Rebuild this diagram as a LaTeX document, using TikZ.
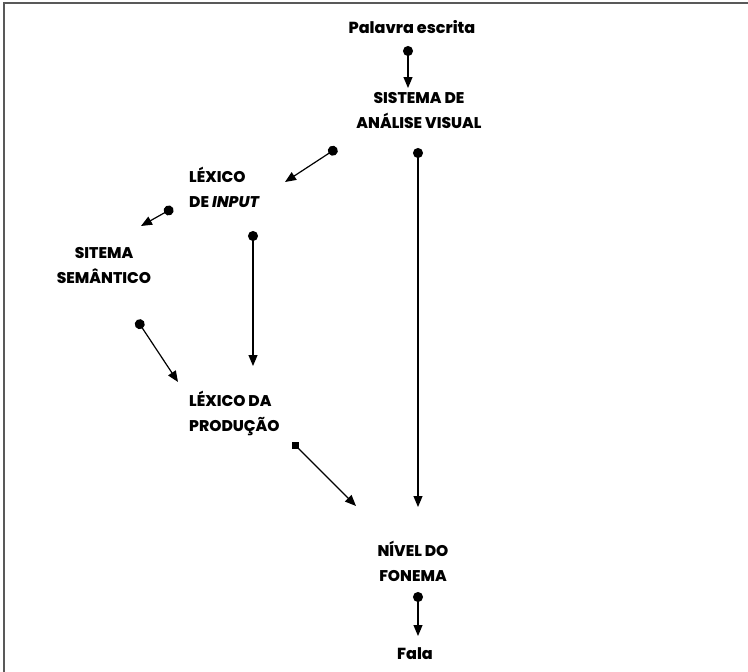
\documentclass[tikz,border=0pt]{standalone}
\usepackage{fontspec}
\setmainfont{Poppins}[BoldFont={* ExtraBold},BoldItalicFont={* ExtraBold Italic}]
\usetikzlibrary{arrows.meta}

\begin{document}
\begin{tikzpicture}[x=1pt,y=-1pt,
    every node/.style={font=\fontsize{15.5}{25}\selectfont\bfseries,inner sep=0pt},
    dotarrow/.style={line width=1.2pt,{Circle[length=10pt]}-{Triangle[length=11pt,width=9pt]}},
    sqarrow/.style={line width=1.2pt,-{Triangle[length=11pt,width=9pt]}}]
  \useasboundingbox (0,0) rectangle (748,672);
  \draw[line width=2pt,color=black!65] (4,672) -- (4,3) -- (748,3);

  \node (pal) at (412,27) {\fontsize{16}{24}\selectfont Palavra escrita};
  \node (vis) [align=center] at (419,111) {SISTEMA DE\\ANÁLISE VISUAL};
  \node (inp) [align=left,anchor=west] at (189,187) {LÉXICO\\DE \textit{INPUT}};
  \node (sem) [align=center] at (104,266) {SITEMA\\SEMÂNTICO};
  \node (prod) [align=left,anchor=west] at (189,413) {LÉXICO DA\\PRODUÇÃO};
  \node (fon) [align=center] at (413,561) {NÍVEL DO\\FONEMA};
  \node (fala) at (415,654) {\fontsize{16}{24}\selectfont Fala};

  \coordinate (pal-o) at (408,46);   \coordinate (vis-i) at (408,88);
  \coordinate (vis-o1) at (337,148); \coordinate (inp-i) at (285,182);
  \coordinate (vis-o2) at (418,148); \coordinate (fon-i1) at (418,507);
  \coordinate (inp-o1) at (173,208); \coordinate (sem-i) at (141,226);
  \coordinate (inp-o2) at (253,231); \coordinate (prod-i1) at (253,366);
  \coordinate (sem-o) at (137,320);  \coordinate (prod-i2) at (178,382);
  \coordinate (prod-o) at (295,445); \coordinate (fon-i2) at (356,506);
  \coordinate (fon-o) at (418,592);  \coordinate (fala-i) at (418,636);

  \draw[dotarrow] (pal-o) -- (vis-i);
  \draw[dotarrow] (vis-o1) -- (inp-i);
  \draw[dotarrow] (vis-o2) -- (fon-i1);
  \draw[dotarrow] (inp-o1) -- (sem-i);
  \draw[dotarrow] (inp-o2) -- (prod-i1);
  \draw[dotarrow] (sem-o) -- (prod-i2);
  \draw[sqarrow] (prod-o) -- (fon-i2);
  \fill ([shift={(-3.5,-3.5)}]prod-o) rectangle ([shift={(3.5,3.5)}]prod-o);
  \draw[dotarrow] (fon-o) -- (fala-i);
\end{tikzpicture}
\end{document}
